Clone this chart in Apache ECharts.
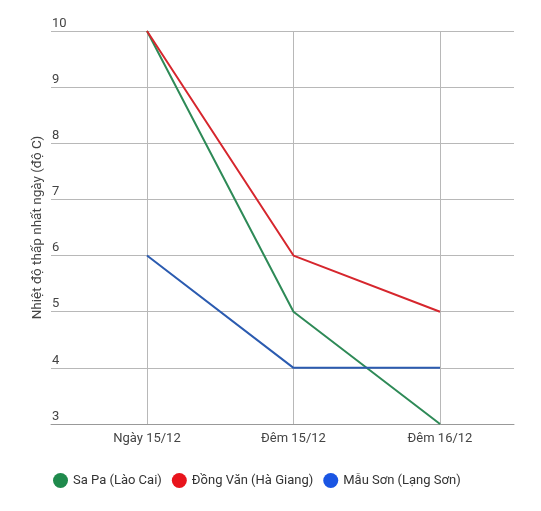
<!DOCTYPE html>
<html>
<head>
    <meta charset="UTF-8">
    <script src="https://cdn.jsdelivr.net/npm/echarts@6/dist/echarts.min.js"></script>
    <style>
        html, body {margin: 0; padding: 0; background: #fff;}
        #main {width: 541px; height: 511px;}
    </style>
</head>
<body>
<div id="main"></div>
<script type="text/javascript">
    var categories = ['Ngày 15/12', 'Đêm 15/12', 'Đêm 16/12'];
    var seriesNames = ['Sa Pa (Lào Cai)', 'Đồng Văn (Hà Giang)', 'Mẫu Sơn (Lạng Sơn)'];
    var sapa = [10, 5, 3];
    var dongvan = [10, 6, 5];
    var mauson = [6, 4, 4];
    var legendColors = ['#1f8a4c', '#e8141c', '#1a55e3'];
    var lineColors = ['#2e8a57', '#d6262d', '#2b5bb0'];

    var catIndex = categories.map(function (c, i) { return i; });

    function pairs(values) {
        return values.map(function (v, i) { return [catIndex[i], v]; });
    }

    var allValues = [sapa, dongvan, mauson];
    var series = [];
    for (var i = 0; i < allValues.length; i++) {
        series.push({
            name: seriesNames[i],
            type: 'line',
            data: pairs(allValues[i]),
            showSymbol: false,
            symbol: 'circle',
            itemStyle: {color: legendColors[i]},
            lineStyle: {color: lineColors[i], width: 2},
            emphasis: {disabled: true}
        });
    }

    var myChart = echarts.init(document.getElementById('main'));
    var option = {
        animation: false,
        textStyle: {fontFamily: 'Roboto'},
        grid: {left: 51, right: 27, top: 31, bottom: 87},
        legend: {
            left: 48,
            top: 468,
            icon: 'circle',
            itemWidth: 15,
            itemHeight: 15,
            itemGap: 10,
            textStyle: {fontSize: 13, color: '#333', fontFamily: 'Roboto'},
            data: seriesNames
        },
        xAxis: {
            type: 'value',
            min: -0.655,
            max: 2.505,
            axisLine: {show: true, lineStyle: {color: '#999', width: 1}},
            axisTick: {show: false, customValues: catIndex},
            axisLabel: {
                customValues: catIndex,
                margin: 8,
                fontSize: 13,
                color: '#444',
                formatter: function (v) { return categories[Math.round(v)]; }
            },
            splitLine: {show: true, lineStyle: {color: '#b8b8b8', width: 1}}
        },
        yAxis: {
            type: 'value',
            min: 3,
            max: 10,
            interval: 1,
            name: 'Nhiệt độ thấp nhất ngày (độ C)',
            nameLocation: 'middle',
            nameGap: 6,
            nameMoveOverlap: false,
            nameTextStyle: {fontSize: 13.5, color: '#444', fontFamily: 'Roboto'},
            axisLine: {show: false},
            axisTick: {show: false},
            axisLabel: {
                inside: true,
                margin: 1,
                verticalAlign: 'bottom',
                padding: [0, 0, 1, 0],
                fontSize: 13,
                color: '#444'
            },
            splitLine: {show: true, lineStyle: {color: '#b8b8b8', width: 1}}
        },
        series: series
    };
    myChart.setOption(option);
</script>
</body>
</html>
